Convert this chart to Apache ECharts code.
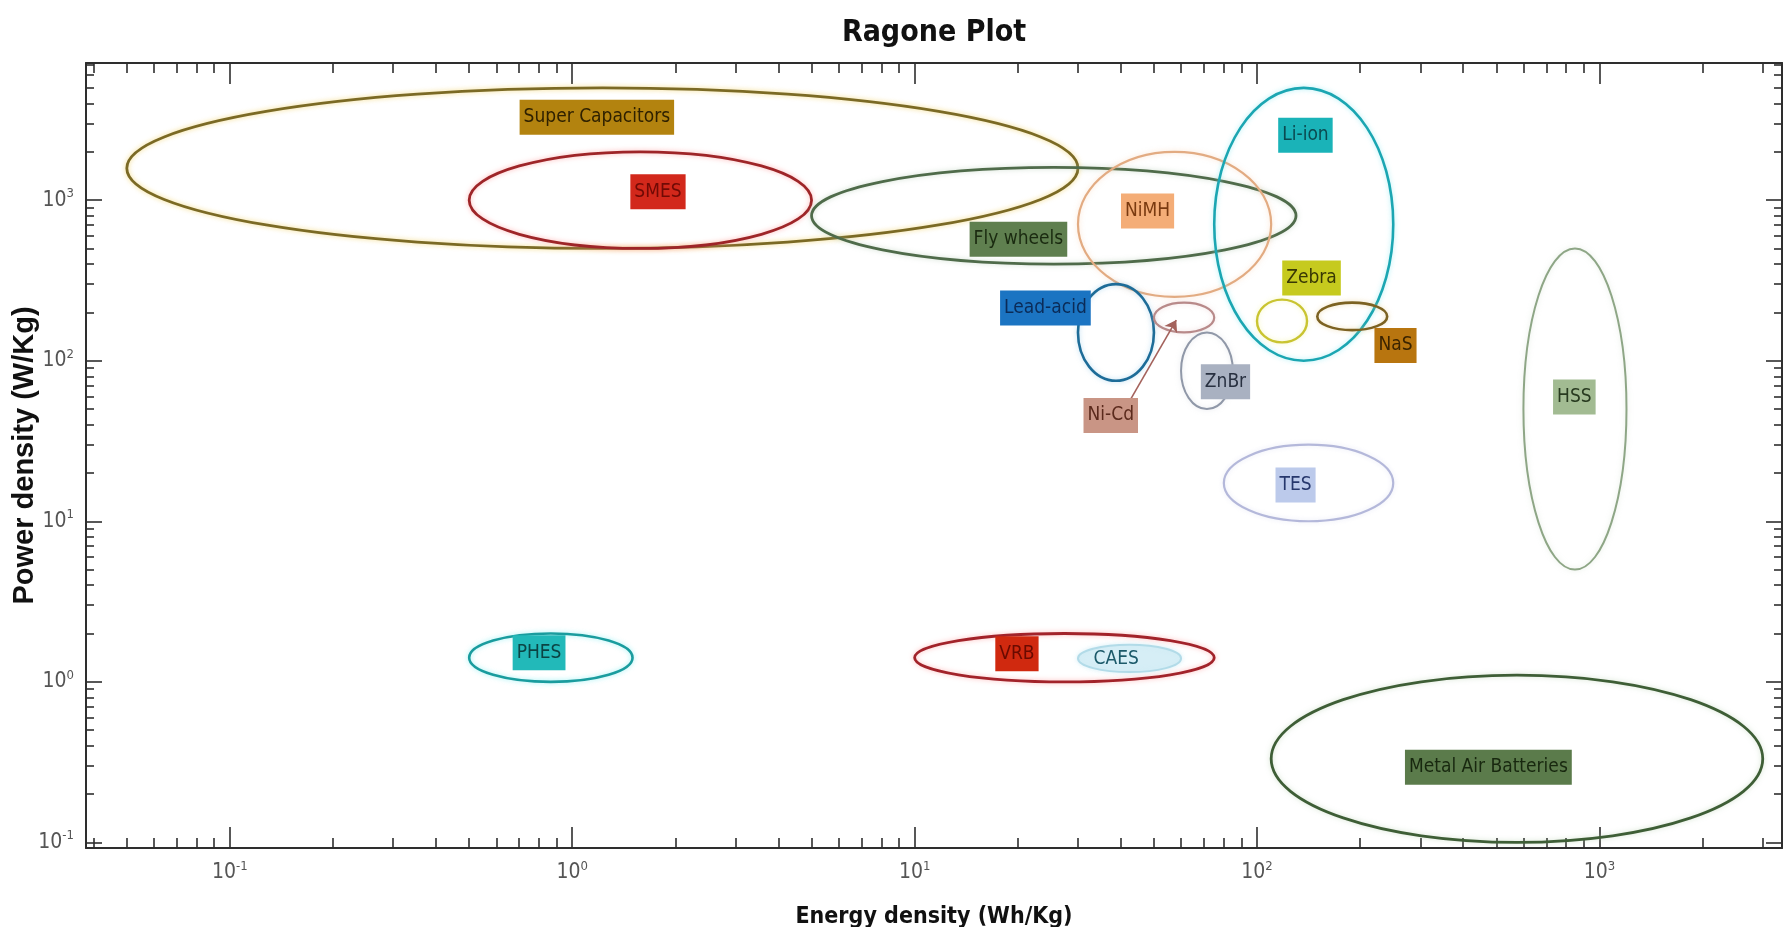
<!DOCTYPE html>
<html>
<head>
<meta charset="utf-8">
<title>Ragone Plot</title>
<script src="https://cdn.jsdelivr.net/npm/echarts@6/dist/echarts.min.js"></script>
<style>
  html, body { margin: 0; padding: 0; background: #ffffff; }
  #chart { width: 1791px; height: 927px; }
</style>
</head>
<body>
<div id="chart"></div>
<script>
// Storage technologies with their energy density (Wh/kg) and power density (W/kg) ranges
const technologies = ['Super Capacitors', 'SMES', 'Fly wheels', 'NiMH', 'Li-ion', 'Lead-acid', 'Ni-Cd', 'ZnBr',
  'Zebra', 'NaS', 'TES', 'HSS', 'PHES', 'VRB', 'CAES', 'Metal Air Batteries'];
const energyMin = [0.05, 0.5, 5, 30, 75, 30, 50, 60, 100, 150, 80, 600, 0.5, 10, 30, 110];
const energyMax = [30, 5, 130, 110, 250, 50, 75, 85, 140, 240, 250, 1200, 1.5, 75, 60, 3000];
const powerMin = [500, 500, 400, 250, 100, 75, 150, 50, 130, 155, 10, 5, 1, 1, 1.15, 0.1];
const powerMax = [5000, 2000, 1600, 2000, 5000, 300, 230, 150, 240, 230, 30, 500, 2, 2, 1.7, 1.1];

// Where each technology's name tag sits (energy, power)
const tagEnergy = [1.18, 1.78, 20.1, 47.9, 138.5, 24.1, 37.4, 80.9, 144.3, 253.8, 129.6, 845, 0.8, 19.9, 38.8, 474];
const tagPower = [3280, 1129, 571, 855, 2538, 213, 45.6, 74, 327, 124.3, 16.85, 59.4, 1.517, 1.496, 1.387, 0.294];

// Pointer from the Ni-Cd tag to its region
const arrowFrom = [42.9, 58.3];
const arrowTo = [58.1, 179];

// Axis extents and decade ticks
const energyRange = [0.038, 3415];
const powerRange = [0.0923, 7145];
const decadeTicks = [0.1, 1, 10, 100, 1000];

// Minor ticks at 2..9 times each decade, kept inside the axis extent
function minorTicks(range) {
  const out = [];
  for (let d = -2; d <= 3; d++) {
    for (let k = 2; k <= 9; k++) {
      const v = Number((k * Math.pow(10, d)).toPrecision(3));
      if (v > range[0] && v < range[1]) out.push(v);
    }
  }
  return out;
}
const energyMinorTicks = minorTicks(energyRange);
const powerMinorTicks = minorTicks(powerRange);

// Drawing styles for each technology, same order as above
const styles = [
  { line: '#7b6a25', glow: 'rgba(240,205,90,0.75)', width: 2.8, tag: '#b3830f', text: '#2f2100' },
  { line: '#9e2528', glow: 'rgba(255,130,130,0.6)', width: 2.8, tag: '#d2281b', text: '#700a05' },
  { line: '#4f6b4a', glow: 'rgba(160,190,160,0.5)', width: 2.8, tag: '#5f7f4f', text: '#1a2a10' },
  { line: '#e2ab82', glow: 'rgba(250,200,160,0.5)', width: 2.2, tag: '#f4ad77', text: '#7a3a10' },
  { line: '#1ba6b2', glow: 'rgba(120,230,240,0.6)', width: 2.6, tag: '#1ab3b8', text: '#0a4a50' },
  { line: '#1d6c98', glow: 'rgba(120,190,230,0.5)', width: 2.6, tag: '#1b74c2', text: '#0b2b57' },
  { line: '#b88a8a', glow: 'rgba(230,190,190,0.5)', width: 2.2, tag: '#c99585', text: '#5b2a1c' },
  { line: '#9098a8', glow: 'rgba(200,205,215,0.5)', width: 2.0, tag: '#a9b1c1', text: '#283040' },
  { line: '#c9c431', glow: 'rgba(240,240,140,0.6)', width: 2.4, tag: '#c6ca1e', text: '#383805' },
  { line: '#7c6222', glow: 'rgba(230,200,130,0.6)', width: 2.6, tag: '#b8750f', text: '#3b2400' },
  { line: '#b4b8da', glow: 'rgba(215,218,240,0.6)', width: 2.2, tag: '#bccaeb', text: '#26376c' },
  { line: '#8ea686', glow: 'rgba(200,215,195,0.5)', width: 2.0, tag: '#a2bb92', text: '#283a20' },
  { line: '#1a9c9e', glow: 'rgba(110,235,240,0.7)', width: 2.6, tag: '#22b9b9', text: '#0b4444' },
  { line: '#a2232a', glow: 'rgba(255,140,140,0.6)', width: 2.8, tag: '#d0290f', text: '#6a0a00' },
  { line: '#b2dbe8', glow: 'rgba(200,235,245,0.6)', width: 2.0, area: '#d6eef6', tag: null, text: '#1c5a6a' },
  { line: '#3e5e36', glow: 'rgba(170,200,160,0.5)', width: 2.8, tag: '#5b7b4b', text: '#18280f' }
];

const NARROW = "'Liberation Sans Narrow', 'DejaVu Sans Condensed', 'Liberation Sans', Arial, sans-serif";
const WIDE = "'Liberation Sans', Arial, sans-serif";
const AXIS = '#2e2e2e';
const TICK_TEXT = '#555555';

function powerOfTen(v) {
  const e = Math.round(Math.log10(v));
  return '{b|10}{e|' + e + '}';
}
const tickRich = {
  b: { fontFamily: NARROW, fontSize: 21, color: TICK_TEXT, lineHeight: 26 },
  e: { fontFamily: NARROW, fontSize: 13, color: TICK_TEXT, lineHeight: 13, verticalAlign: 'top' }
};

function axisSet(pos, range, major, minor, tickLen, minorLen, extra) {
  const base = {
    type: 'log', logBase: 10, position: pos, min: range[0], max: range[1],
    splitLine: { show: false }, minorTick: { show: false }
  };
  const majorAxis = Object.assign({}, base, {
    axisLine: { show: true, onZero: false, lineStyle: { color: AXIS, width: 2 } },
    axisTick: { show: true, inside: true, length: tickLen, customValues: major, lineStyle: { color: AXIS, width: 1.6 } },
    axisLabel: { show: false }
  }, extra || {});
  const minorAxis = Object.assign({}, base, {
    axisLine: { show: false },
    axisTick: { show: true, inside: true, length: minorLen, customValues: minor, lineStyle: { color: AXIS, width: 1.6 } },
    axisLabel: { show: false }
  });
  return [majorAxis, minorAxis];
}

const xAxes = [].concat(
  axisSet('bottom', energyRange, decadeTicks, energyMinorTicks, 21, 10, {
    axisLabel: {
      show: true, inside: false, customValues: decadeTicks, formatter: powerOfTen,
      rich: tickRich, margin: 12, verticalAlign: 'top'
    },
    name: 'Energy density (Wh/Kg)', nameLocation: 'middle', nameGap: 58, nameMoveOverlap: false,
    nameTextStyle: { fontFamily: NARROW, fontWeight: 'bold', fontSize: 23, color: '#111111' }
  }),
  axisSet('top', energyRange, decadeTicks, energyMinorTicks, 21, 10)
);
const yAxes = [].concat(
  axisSet('left', powerRange, decadeTicks, powerMinorTicks, 16, 8, {
    axisLabel: {
      show: true, inside: false, customValues: decadeTicks, formatter: powerOfTen,
      rich: tickRich, margin: 12, verticalAlign: 'middle'
    },
    name: 'Power density (W/Kg)', nameLocation: 'middle', nameGap: 47, nameMoveOverlap: false,
    nameTextStyle: { fontFamily: WIDE, fontWeight: 'bold', fontSize: 29, color: '#111111' }
  }),
  axisSet('right', powerRange, decadeTicks, powerMinorTicks, 16, 8)
);

const regionData = technologies.map((name, i) => ({
  name: name,
  value: [energyMin[i], powerMin[i], energyMax[i], powerMax[i]]
}));

const tagData = technologies.map((name, i) => ({
  name: name,
  value: [tagEnergy[i], tagPower[i]],
  label: {
    backgroundColor: styles[i].tag || 'transparent',
    color: styles[i].text
  }
}));

const chart = echarts.init(document.getElementById('chart'), null, { renderer: 'canvas' });
chart.setOption({
  animation: false,
  backgroundColor: '#ffffff',
  grid: { left: 86, right: 9, top: 63, bottom: 79, containLabel: false, outerBoundsMode: 'none' },
  graphic: [{
    type: 'text', x: 934, y: 33, z: 10,
    style: {
      text: 'Ragone Plot', fill: '#111111',
      font: "bold 30px " + NARROW,
      align: 'center', verticalAlign: 'middle',
      textAlign: 'center', textVerticalAlign: 'middle'
    }
  }],
  xAxis: xAxes,
  yAxis: yAxes,
  series: [
    {
      name: 'Regions',
      type: 'custom',
      xAxisIndex: 0, yAxisIndex: 0,
      z: 2,
      encode: { x: [0, 2], y: [1, 3] },
      data: regionData,
      renderItem: function (params, api) {
        const st = styles[params.dataIndex];
        const a = api.coord([api.value(0), api.value(1)]);
        const b = api.coord([api.value(2), api.value(3)]);
        return {
          type: 'ellipse',
          shape: {
            cx: (a[0] + b[0]) / 2, cy: (a[1] + b[1]) / 2,
            rx: Math.abs(b[0] - a[0]) / 2, ry: Math.abs(b[1] - a[1]) / 2
          },
          style: {
            fill: st.area || 'none',
            stroke: st.line,
            lineWidth: st.width,
            shadowBlur: 5,
            shadowColor: st.glow
          }
        };
      }
    },
    {
      name: 'Ni-Cd pointer',
      type: 'lines',
      coordinateSystem: 'cartesian2d',
      xAxisIndex: 0, yAxisIndex: 0,
      z: 3,
      symbol: ['none', 'arrow'],
      symbolSize: 11,
      lineStyle: { color: '#a4625c', width: 1.6, opacity: 1 },
      data: [{ coords: [arrowFrom, arrowTo] }]
    },
    {
      name: 'Tags',
      type: 'scatter',
      xAxisIndex: 0, yAxisIndex: 0,
      z: 4,
      symbolSize: 1,
      itemStyle: { color: 'rgba(0,0,0,0)', opacity: 1 },
      label: {
        show: true, position: 'inside', formatter: '{b}',
        fontFamily: NARROW, fontSize: 19, lineHeight: 22,
        padding: [7, 4, 6, 4]
      },
      data: tagData
    }
  ]
});
</script>
</body>
</html>
